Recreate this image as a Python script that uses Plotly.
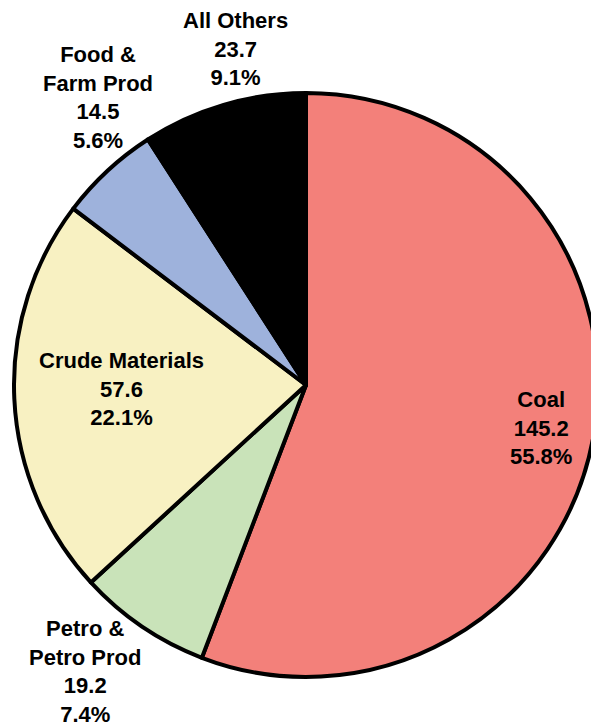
import plotly.graph_objects as go

categories = ["Coal", "Petro &<br>Petro Prod", "Crude Materials", "Food &<br>Farm Prod", "All Others"]
values = [145.2, 19.2, 57.6, 14.5, 23.7]
colors = ["#F3807A", "#C9E3B9", "#F8F1C2", "#9EB2DC", "#000000"]

# label anchor positions in pixels (centre of text block)
label_px = [(541, 428), (85, 671), (121, 389), (98, 98), (235, 49)]

W, H = 611, 727
L, R, T, B = 14, 13, 93, 50
PW, PH = W - L - R, H - T - B

total = sum(values)

fig = go.Figure(go.Pie(
    labels=[c.replace("<br>", " ") for c in categories],
    values=values,
    sort=False,
    direction="clockwise",
    rotation=0,
    marker=dict(colors=colors, line=dict(color="#000000", width=4)),
    textinfo="none",
    hoverinfo="label+value+percent",
    showlegend=False,
))

for cat, v, (px, py) in zip(categories, values, label_px):
    txt = f"<b>{cat}<br>{v:.1f}<br>{100 * v / total:.1f}%</b>"
    fig.add_annotation(
        x=(px - L) / PW, y=(H - B - py) / PH, xref="paper", yref="paper",
        text=txt, showarrow=False, xanchor="center", yanchor="middle",
        font=dict(family="Liberation Sans, Arial, sans-serif", size=22, color="#000000"),
        align="center",
    )

fig.update_layout(
    width=W, height=H,
    margin=dict(l=L, r=R, t=T, b=B, pad=0),
    paper_bgcolor="#FFFFFF", plot_bgcolor="#FFFFFF",
)

fig.write_html(
    "out.html",
    config={"displayModeBar": False},
    post_script="document.body.style.margin='0';document.body.style.overflow='hidden';",
)
